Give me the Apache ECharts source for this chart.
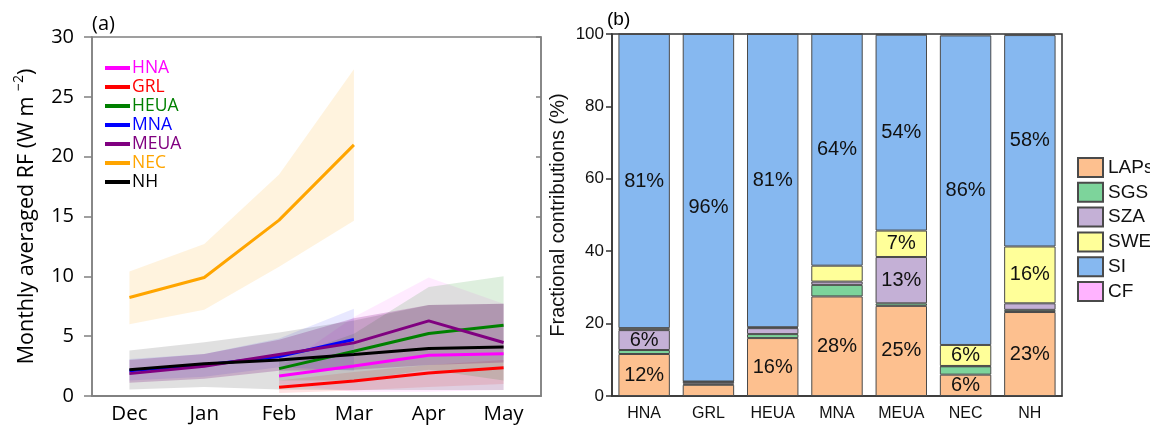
<!DOCTYPE html>
<html>
<head>
<meta charset="utf-8">
<script src="https://cdn.jsdelivr.net/npm/echarts@6/dist/echarts.min.js"></script>
<style>
  html, body { margin: 0; padding: 0; background: #fff; }
  #chart { width: 1150px; height: 428px; }
</style>
</head>
<body>
<div id="chart"></div>
<script>
// panel (a): monthly mean RF and its spread, W m-2
const months = ['Dec', 'Jan', 'Feb', 'Mar', 'Apr', 'May'];
const regionNames = ['HNA', 'GRL', 'HEUA', 'MNA', 'MEUA', 'NEC', 'NH'];

const hnaMean = [null, null, 1.67, 2.51, 3.40, 3.54];
const hnaLow  = [null, null, 1.0, 0.35, 0.35, 0.5];
const hnaHigh = [null, null, 2.3, 6.6, 9.9, 7.7];

const grlMean = [null, null, 0.73, 1.26, 1.93, 2.37];
const grlLow  = [null, null, 0.25, 0.45, 0.75, 1.0];
const grlHigh = [null, null, 1.3, 2.0, 2.6, 3.0];

const heuaMean = [null, null, 2.29, 3.74, 5.22, 5.92];
const heuaLow  = [null, null, 1.3, 1.3, 2.2, 1.3];
const heuaHigh = [null, null, 3.0, 5.2, 9.1, 10.0];

const mnaMean = [2.1, 2.6, 3.3, 4.72, null, null];
const mnaLow  = [1.3, 1.6, 2.4, 2.1, null, null];
const mnaHigh = [3.1, 3.5, 4.8, 7.3, null, null];

const meuaMean = [1.87, 2.48, 3.46, 4.44, 6.28, 4.47];
const meuaLow  = [1.1, 1.45, 2.1, 2.2, 2.6, 2.8];
const meuaHigh = [3.0, 3.5, 4.7, 6.5, 7.6, 7.7];

const necMean = [8.23, 9.9, 14.7, 20.99, null, null];
const necLow  = [6.0, 7.2, 10.8, 14.65, null, null];
const necHigh = [10.4, 12.7, 18.5, 27.3, null, null];

const nhMean = [2.2, 2.7, 3.0, 3.46, 3.96, 4.1];
const nhLow  = [0.55, 0.75, 0.55, 0.5, 0.5, 0.5];
const nhHigh = [3.8, 4.5, 5.3, 6.3, 7.6, 7.7];

// panel (b): fractional contributions, %
const barRegions = ['HNA', 'GRL', 'HEUA', 'MNA', 'MEUA', 'NEC', 'NH'];
const fracLAPs = [11.6, 3.1, 16.0, 27.5, 24.9, 5.9, 23.2];
const fracSGS  = [1.1, 0.3, 1.1, 3.2, 0.7, 2.3, 0.6];
const fracSZA  = [5.5, 0.5, 1.65, 0.9, 12.8, 0.1, 1.8];
const fracSWE  = [0.55, 0.1, 0.25, 4.4, 7.3, 5.8, 15.7];
const fracSI   = [81.25, 96.0, 81.0, 64.0, 54.1, 85.5, 58.4];
const fracCF   = [0, 0, 0, 0, 0.2, 0.4, 0.3];

const lineColors = ['#ff00ff', '#ff0000', '#008000', '#0000ff', '#800080', '#ffa500', '#000000'];
const bandColors = [
    'rgba(255,0,255,0.08)', 'rgba(255,0,0,0.11)', 'rgba(0,128,0,0.13)', 'rgba(0,0,255,0.09)',
    'rgba(128,0,128,0.22)', 'rgba(255,165,0,0.13)', 'rgba(0,0,0,0.12)'
];
const means = [hnaMean, grlMean, heuaMean, mnaMean, meuaMean, necMean, nhMean];
const lows = [hnaLow, grlLow, heuaLow, mnaLow, meuaLow, necLow, nhLow];
const highs = [hnaHigh, grlHigh, heuaHigh, mnaHigh, meuaHigh, necHigh, nhHigh];

const leftFont = 'Open Sans';
const rightFont = 'Liberation Sans';

var chart = echarts.init(document.getElementById('chart'));

let series = [];

// shaded spread: transparent lower line + stacked difference
regionNames.forEach((name, i) => {
    let lo = lows[i].map(v => v == null ? '-' : v);
    let diff = highs[i].map((h, k) => (h == null || lows[i][k] == null) ? '-' : +(h - lows[i][k]).toFixed(3));
    series.push({
        name: name + ' low', type: 'line', xAxisIndex: 0, yAxisIndex: 0,
        stack: 'band' + name, data: lo, symbol: 'none', silent: true,
        lineStyle: { opacity: 0 }, z: 1
    });
    series.push({
        name: name + ' band', type: 'line', xAxisIndex: 0, yAxisIndex: 0,
        stack: 'band' + name, data: diff, symbol: 'none', silent: true,
        lineStyle: { opacity: 0 }, areaStyle: { color: bandColors[i], opacity: 1 }, z: 1
    });
});

regionNames.forEach((name, i) => {
    series.push({
        name: name, type: 'line', xAxisIndex: 0, yAxisIndex: 0,
        data: means[i].map(v => v == null ? '-' : v),
        symbol: 'none', color: lineColors[i],
        lineStyle: { color: lineColors[i], width: 3 }, z: 5
    });
});

const barParts = [
    ['LAPs', fracLAPs, '#fdc08f'],
    ['SGS', fracSGS, '#7dd49b'],
    ['SZA', fracSZA, '#c4b0d6'],
    ['SWE', fracSWE, '#ffff99'],
    ['SI', fracSI, '#86b8f0'],
    ['CF', fracCF, '#ffb3ff']
];
barParts.forEach(([name, vals, col]) => {
    series.push({
        name: name, type: 'bar', xAxisIndex: 2, yAxisIndex: 2, stack: 'frac',
        data: vals, barCategoryGap: '20%',
        itemStyle: { color: col, borderColor: '#4a4a4a', borderWidth: 1 },
        label: {
            show: true, position: 'inside', fontSize: 20, color: '#111', fontFamily: rightFont,
            formatter: p => p.value >= 5 ? Math.round(p.value) + '%' : ''
        }
    });
});

var option = {
    animation: false,
    backgroundColor: '#fff',
    grid: [
        { left: 92, top: 37, width: 449, height: 359, show: true, borderColor: '#808080', borderWidth: 1.5, backgroundColor: 'transparent' },
        { left: 612, top: 34, width: 450, height: 362, show: true, borderColor: '#333', borderWidth: 1.5, backgroundColor: 'transparent' }
    ],
    graphic: [
        { type: 'text', left: 92, top: 14, style: { text: '(a)', fontSize: 20, fontFamily: leftFont, fill: '#000' } },
        { type: 'text', left: 607, top: 10, style: { text: '(b)', fontSize: 19, fontFamily: rightFont, fill: '#000' } }
    ],
    legend: [
        {
            orient: 'vertical', left: 100, top: 54, itemWidth: 25, itemHeight: 4, itemGap: 1,
            icon: 'rect',
            textStyle: { fontSize: 17.5, fontFamily: leftFont, lineHeight: 17.5, padding: [0, 0, 0, -3] },
            data: regionNames.map((n, i) => ({ name: n, itemStyle: { color: lineColors[i] }, textStyle: { color: lineColors[i] } }))
        },
        {
            orient: 'vertical', left: 1072, top: 152, itemWidth: 25, itemHeight: 19, itemGap: 3.8,
            icon: 'rect',
            textStyle: { fontSize: 19, fontFamily: rightFont, color: '#111', lineHeight: 19 },
            data: barParts.map(p => p[0])
        }
    ],
    xAxis: [
        {
            type: 'category', gridIndex: 0, data: months, boundaryGap: true,
            axisLine: { lineStyle: { color: '#808080', width: 1.5 } },
            axisTick: { alignWithLabel: true, length: 7, lineStyle: { color: '#808080', width: 1.5 } },
            axisLabel: { fontSize: 20.5, fontFamily: leftFont, color: '#000', margin: 8 }
        },
        {
            type: 'category', gridIndex: 0, data: months, position: 'top', boundaryGap: true,
            axisLine: { lineStyle: { color: '#808080', width: 1.5 } },
            axisTick: { alignWithLabel: true, length: 8, lineStyle: { color: '#808080', width: 1.5 } },
            axisLabel: { show: false }
        },
        {
            type: 'category', gridIndex: 1, data: barRegions, boundaryGap: true,
            axisLine: { lineStyle: { color: '#333', width: 1.5 } },
            axisTick: { alignWithLabel: true, length: 6, lineStyle: { color: '#333', width: 1.5 } },
            axisLabel: { fontSize: 16, fontFamily: rightFont, color: '#111', margin: 10 }
        }
    ],
    yAxis: [
        {
            type: 'value', gridIndex: 0, min: 0, max: 30, interval: 5,
            name: '{a|Monthly averaged RF (W m }{b|−2}{a|)}',
            nameLocation: 'middle', nameGap: 50,
            nameTextStyle: {
                rich: {
                    a: { fontSize: 21.5, fontFamily: leftFont, color: '#000', lineHeight: 30 },
                    b: { fontSize: 14, fontFamily: leftFont, color: '#000', verticalAlign: 'top', lineHeight: 15 }
                }
            },
            axisLine: { show: true, lineStyle: { color: '#808080', width: 1.5 } },
            axisTick: { show: true, length: 8, lineStyle: { color: '#808080', width: 1.5 } },
            axisLabel: { fontSize: 20, fontFamily: leftFont, color: '#000', margin: 18 },
            splitLine: { show: false }
        },
        {
            type: 'value', gridIndex: 0, min: 0, max: 30, interval: 5, position: 'right',
            axisLine: { show: true, lineStyle: { color: '#808080', width: 1.5 } },
            axisTick: { show: true, inside: true, length: 5, lineStyle: { color: '#808080', width: 1.5 } },
            axisLabel: { show: false },
            splitLine: { show: false }
        },
        {
            type: 'value', gridIndex: 1, min: 0, max: 100, interval: 20,
            name: 'Fractional contributions (%)',
            nameLocation: 'middle', nameGap: 44,
            nameTextStyle: { fontSize: 20, fontFamily: rightFont, color: '#111' },
            axisLine: { show: true, lineStyle: { color: '#333', width: 1.5 } },
            axisTick: { show: true, length: 6, lineStyle: { color: '#333', width: 1.5 } },
            axisLabel: { fontSize: 17, fontFamily: rightFont, color: '#111', margin: 8 },
            splitLine: { show: false }
        }
    ],
    series: series
};

chart.setOption(option);
</script>
</body>
</html>
